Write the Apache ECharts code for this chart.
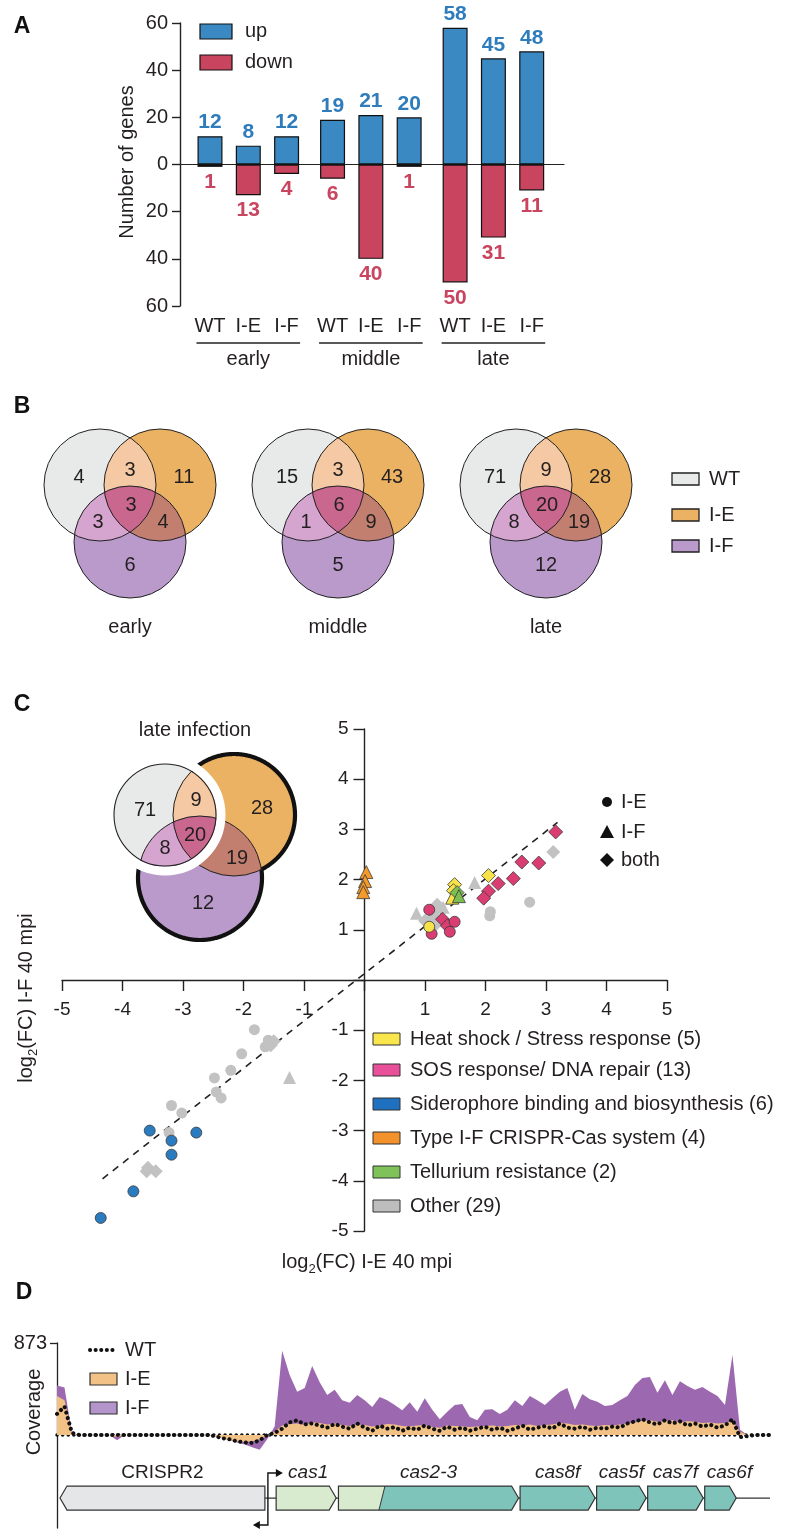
<!DOCTYPE html>
<html><head><meta charset="utf-8">
<script src="https://cdn.jsdelivr.net/npm/echarts@6/dist/echarts.min.js"></script>
<style>html,body{margin:0;padding:0;background:#fff}#c{width:795px;height:1535px}</style>
</head><body><div id="c"></div>
<script>
// ================= DATA =================
// Panel A
const groupNames = ['early', 'middle', 'late'];
const strainNames = ['WT', 'I-E', 'I-F'];
const upCounts = [12, 8, 12, 19, 21, 20, 58, 45, 48];
const downCounts = [1, 13, 4, 6, 40, 1, 50, 31, 11];
// Panel B: [WT only, I-E only, I-F only, WT&I-E, WT&I-F, I-E&I-F, all three]
const vennSetNames = ['WT', 'I-E', 'I-F'];
const vennEarly = [4, 11, 6, 3, 3, 4, 3];
const vennMiddle = [15, 43, 5, 3, 1, 9, 6];
const vennLate = [71, 28, 12, 9, 8, 19, 20];
// Panel C: [log2FC I-E, log2FC I-F, detected in]
const heatShock = [[2.05, 2.08, 'both'], [1.49, 1.90, 'both'], [1.47, 1.78, 'both'], [1.45, 1.64, 'IF'], [1.07, 1.06, 'IE']];
const sosRepair = [[3.16, 2.95, 'both'], [2.60, 2.35, 'both'], [2.88, 2.33, 'both'], [2.46, 2.02, 'both'], [2.21, 1.92, 'both'],
  [2.05, 1.77, 'both'], [1.97, 1.63, 'both'], [1.29, 1.21, 'both'], [1.37, 1.08, 'both'],
  [1.07, 1.40, 'IE'], [1.49, 1.16, 'IE'], [1.41, 0.96, 'IE'], [1.11, 0.92, 'IE']];
const siderophore = [[-3.55, -3.00, 'IE'], [-2.78, -3.04, 'IE'], [-3.19, -3.20, 'IE'], [-3.19, -3.48, 'IE'], [-3.82, -4.21, 'IE'], [-4.36, -4.74, 'IE']];
const typeIFcas = [[0.03, 2.15, 'IF'], [0.01, 1.97, 'IF'], [-0.02, 1.85, 'IF'], [-0.02, 1.75, 'IF']];
const tellurium = [[1.53, 1.74, 'both'], [1.56, 1.67, 'IF']];
const otherGenes = [[0.86, 1.33, 'IF'], [1.07, 1.22, 'IF'], [1.20, 1.50, 'both'], [1.30, 1.45, 'IF'], [1.17, 1.10, 'both'],
  [1.15, 1.30, 'IE'], [1.00, 1.18, 'both'], [1.82, 1.94, 'IF'], [3.12, 2.55, 'both'], [2.73, 1.55, 'IE'],
  [2.08, 1.36, 'IE'], [2.07, 1.28, 'IE'],
  [-1.82, -0.99, 'IE'], [-1.59, -1.20, 'IE'], [-1.50, -1.22, 'both'], [-1.64, -1.33, 'IE'], [-1.55, -1.30, 'both'],
  [-2.03, -1.47, 'IE'], [-2.21, -1.80, 'IE'], [-1.24, -1.94, 'IF'], [-2.48, -1.95, 'IE'], [-2.45, -2.23, 'IE'],
  [-2.37, -2.35, 'IE'], [-3.19, -2.50, 'IE'], [-3.02, -2.65, 'IE'], [-3.23, -3.04, 'IE'], [-3.60, -3.81, 'both'],
  [-3.45, -3.81, 'both'], [-3.58, -3.74, 'both']];
const fitLine = [[-4.33, -3.96], [3.19, 3.14]];
const cTicks = [-5, -4, -3, -2, -1, 1, 2, 3, 4, 5];
// Panel D: coverage along locus (position index 0..95)
const coverageIF = [470, 450, 10, 0, 0, 0, 0, 0, -50, 0,
  0, 0, 0, 0, 0, 0, 0, 0, 0, 0,
  0, -10, -30, -50, -70, -90, -115, -140, -40, 80,
  800, 570, 410, 445, 655, 500, 380, 430, 330, 305,
  380, 330, 265, 360, 330, 285, 235, 310, 220, 350,
  240, 150, 220, 285, 295, 170, 140, 240, 245, 200,
  240, 330, 275, 370, 330, 285, 350, 410, 445, 240,
  390, 340, 315, 275, 285, 330, 370, 475, 540, 550,
  400, 520, 380, 510, 465, 430, 455, 410, 370, 285,
  760, 50, 0, 0, 0, 0];
const coverageIE = [370, 330, 10, 0, 0, 0, 0, 0, -20, 0,
  0, 0, 0, 0, 0, 0, 0, 0, 0, 0,
  0, -5, -30, -50, -60, -65, -60, -40, -10, 30,
  90, 105, 110, 95, 120, 115, 100, 110, 95, 85,
  100, 95, 80, 90, 105, 100, 85, 80, 90, 95,
  75, 70, 90, 85, 80, 75, 80, 85, 90, 80,
  85, 95, 90, 100, 85, 95, 100, 115, 110, 95,
  100, 90, 85, 95, 90, 100, 110, 120, 135, 140,
  125, 130, 140, 120, 130, 125, 115, 120, 110, 115,
  130, 30, 0, 0, 0, 0];
const coverageWT = [200, 270, 20, 0, 0, 0, 0, 0, 0, 0,
  0, 0, 0, 0, 0, 0, 0, 0, 0, 0,
  0, -10, -30, -40, -60, -70, -75, -50, 0, 20,
  60, 120, 140, 100, 110, 90, 70, 105, 80, 60,
  110, 70, 40, 90, 60, 75, 40, 70, 50, 90,
  60, 40, 80, 50, 70, 40, 60, 80, 50, 70,
  40, 60, 90, 50, 70, 85, 60, 110, 70, 60,
  80, 50, 70, 60, 80, 70, 110, 130, 150, 120,
  100, 140, 110, 130, 90, 110, 80, 100, 70, 90,
  150, -20, -10, 0, 0, 0];
const coverageMax = 873;
const geneNames = ['CRISPR2', 'cas1', 'cas2-3', 'cas8f', 'cas5f', 'cas7f', 'cas6f'];
const geneStart = [0.4, 29.2, 37.5, 61.7, 71.9, 78.7, 86.3];
const geneEnd = [27.7, 37.2, 61.5, 71.7, 78.5, 86.1, 90.5];
const geneStrand = [-1, 1, 1, 1, 1, 1, 1];
const geneFusionAt = [-1, -1, 43.3, -1, -1, -1, -1];
const locusExtent = [0.4, 95];
const promoterAt = 28.1;

// ================= STYLE =================
const FONT = "'Liberation Sans', Arial, Helvetica, sans-serif";
const TXT = '#231f20';
const BLUE = '#3a89c2', BLUE_TXT = '#2f7cbc', RED = '#c9445f';
const VC = {WT: '#e8eaea', IE: '#ecb263', IF: '#b99acb', WT_IE: '#f5c9a3', WT_IF: '#d5a5d0', IE_IF: '#c27f70', ALL: '#c9678f'};
const CAT = {heat: '#f7e24a', sos: '#d93d72', sid: '#2a7bbf', cas: '#f39a2b', tel: '#7cbf50', other: '#c2c2c2'};
const CAT_LEG = ['#f9e54c', '#e8509a', '#1f70bf', '#f3922a', '#80c25a', '#bdbdbd'];
const GENE_FILL = ['#e4e6e8', '#d8ebcf', '#7fc4ba', '#7fc4ba', '#7fc4ba', '#7fc4ba', '#7fc4ba'];
const GENE_LABEL_DX = [0, 2, 0, 0, 0, 0, 9];
const LIGHT_GREEN = '#d8ebcf', TEAL = '#7fc4ba';
const GROUP_STEP = 3.2;
const GENE_OFFSET = 63;

const mctx = document.createElement('canvas').getContext('2d');
function tw(t, size, weight) { mctx.font = (weight || 'normal') + ' ' + size + 'px ' + FONT; return mctx.measureText(t).width; }
function txt(x, y, text, o) {
  o = o || {};
  return {type: 'text', x: x, y: y, rotation: o.rotation || 0,
    style: {text: text, fill: o.color || TXT, fontSize: o.size || 20, fontFamily: FONT,
      fontWeight: o.weight || 'normal', fontStyle: o.style || 'normal',
      align: o.align || 'center', verticalAlign: o.valign || 'middle'}};
}

const chart = echarts.init(document.getElementById('c'), null, {renderer: 'canvas', width: 795, height: 1535});
const xPos = upCounts.map((_, i) => Math.floor(i / 3) * GROUP_STEP + (i % 3));

const shapeSymbol = {IE: 'circle', IF: 'triangle', both: 'diamond'};
const shapeSize = {IE: 11, IF: 13, both: 14};
function scatter(name, arr, color, bordered) {
  return {type: 'scatter', name: name, xAxisIndex: 1, yAxisIndex: 1, z: 5,
    data: arr.map(d => ({value: [d[0], d[1]], symbol: shapeSymbol[d[2]], symbolSize: shapeSize[d[2]]})),
    itemStyle: {color: color, borderColor: bordered ? '#3a3a3a' : color, borderWidth: bordered ? 0.8 : 0, opacity: 1}};
}

function renderGene(params, api) {
  const s = api.value(0), e = api.value(1), dir = api.value(2), split = api.value(3);
  const a = api.coord([s, 0]), b = api.coord([e, 0]);
  const y = a[1] + GENE_OFFSET, h = 12, t = 7, x0 = a[0], x1 = b[0];
  const i = params.dataIndex;
  const outline = dir < 0 ? [[x0, y], [x0 + t, y - h], [x1, y - h], [x1, y + h], [x0 + t, y + h]]
    : [[x0, y - h], [x1 - t, y - h], [x1, y], [x1 - t, y + h], [x0, y + h]];
  const ch = [];
  if (split >= 0) {
    const xs = api.coord([split, 0])[0];
    ch.push({type: 'polygon', shape: {points: [[x0, y - h], [xs + 3, y - h], [xs - 3, y + h], [x0, y + h]]}, style: {fill: LIGHT_GREEN}});
    ch.push({type: 'polygon', shape: {points: [[xs + 3, y - h], [x1 - t, y - h], [x1, y], [x1 - t, y + h], [xs - 3, y + h]]}, style: {fill: TEAL}});
    ch.push({type: 'line', shape: {x1: xs + 3, y1: y - h, x2: xs - 3, y2: y + h}, style: {stroke: '#333', lineWidth: 1}});
    ch.push({type: 'polygon', shape: {points: outline}, style: {fill: 'none', stroke: '#333', lineWidth: 1.2}});
  } else {
    ch.push({type: 'polygon', shape: {points: outline}, style: {fill: GENE_FILL[i], stroke: '#333', lineWidth: 1.2}});
  }
  const nm = geneNames[i];
  ch.push({type: 'text', x: (x0 + x1) / 2 + GENE_LABEL_DX[i], y: y - 25, style: {text: nm, fill: TXT, fontSize: 19, fontFamily: FONT,
    fontStyle: nm.indexOf('cas') === 0 ? 'italic' : 'normal', align: 'center', verticalAlign: 'middle'}});
  return {type: 'group', children: ch};
}
function renderLocus(params, api) {
  const a = api.coord([api.value(0), 0]), b = api.coord([api.value(1), 0]);
  const y = a[1] + GENE_OFFSET;
  return {type: 'line', shape: {x1: a[0], y1: y, x2: b[0], y2: y}, style: {stroke: '#333', lineWidth: 1.2}};
}
function renderPromoter(params, api) {
  const p = api.coord([api.value(0), 0]);
  const x = p[0], y = p[1] + GENE_OFFSET;
  const st = {stroke: '#111', lineWidth: 1.4, fill: 'none'};
  return {type: 'group', children: [
    {type: 'polyline', shape: {points: [[x, y], [x, y - 25], [x + 9, y - 25]]}, style: st},
    {type: 'polygon', shape: {points: [[x + 8, y - 29], [x + 15, y - 25], [x + 8, y - 21]]}, style: {fill: '#111'}},
    {type: 'polyline', shape: {points: [[x, y], [x, y + 27], [x - 9, y + 27]]}, style: st},
    {type: 'polygon', shape: {points: [[x - 8, y + 23], [x - 15, y + 27], [x - 8, y + 31]]}, style: {fill: '#111'}}
  ]};
}

const axisCol = '#222';
const option = {
  animation: false,
  backgroundColor: '#ffffff',
  textStyle: {fontFamily: FONT},
  grid: [
    {left: 180, top: 23, width: 384, height: 283},
    {left: 62, top: 729, width: 605, height: 502},
    {left: 57, top: 1343, width: 713, height: 185}
  ],
  xAxis: [
    {gridIndex: 0, type: 'value', min: -0.783, max: 9.243,
      axisLine: {show: true, onZero: true, lineStyle: {color: axisCol, width: 1.2}},
      axisTick: {show: false}, axisLabel: {show: false}, splitLine: {show: false}},
    {gridIndex: 1, type: 'value', min: -5, max: 5, interval: 1,
      axisLine: {show: true, onZero: true, lineStyle: {color: axisCol, width: 1.4}},
      axisTick: {show: true, length: 11, lineStyle: {color: axisCol, width: 1.4}},
      axisLabel: {show: false}, splitLine: {show: false}},
    {gridIndex: 2, type: 'value', min: 0, max: 95,
      axisLine: {show: true, onZero: true, lineStyle: {color: '#111', width: 3.5, type: [0.1, 5.5], cap: 'round'}},
      axisTick: {show: false}, axisLabel: {show: false}, splitLine: {show: false}}
  ],
  yAxis: [
    {gridIndex: 0, type: 'value', min: -60, max: 60, interval: 20,
      axisLine: {show: true, onZero: false, lineStyle: {color: axisCol, width: 1.4}},
      axisTick: {show: true, length: 8, lineStyle: {color: axisCol, width: 1.4}},
      axisLabel: {fontSize: 20, color: TXT, fontFamily: FONT, margin: 12, formatter: v => String(Math.abs(v))},
      splitLine: {show: false}},
    {gridIndex: 1, type: 'value', min: -5, max: 5, interval: 1,
      axisLine: {show: true, onZero: true, lineStyle: {color: axisCol, width: 1.4}},
      axisTick: {show: true, length: 11, lineStyle: {color: axisCol, width: 1.4}},
      axisLabel: {show: false}, splitLine: {show: false}},
    {gridIndex: 2, type: 'value', min: -882, max: coverageMax,
      axisLine: {show: true, onZero: false, lineStyle: {color: axisCol, width: 1.3}},
      axisTick: {show: true, length: 7, customValues: [coverageMax], lineStyle: {color: axisCol, width: 1.3}},
      axisLabel: {fontSize: 20, color: TXT, fontFamily: FONT, margin: 10, customValues: [coverageMax]},
      splitLine: {show: false}}
  ],
  series: [
    {type: 'bar', name: 'up', xAxisIndex: 0, yAxisIndex: 0, stack: 'a', barWidth: 25,
      data: upCounts.map((v, i) => [xPos[i], v]),
      itemStyle: {color: BLUE, borderColor: '#111', borderWidth: 1.2},
      label: {show: true, position: 'top', distance: 3, color: BLUE_TXT, fontWeight: 'bold', fontSize: 21, fontFamily: FONT, formatter: p => String(p.value[1])}},
    {type: 'bar', name: 'down', xAxisIndex: 0, yAxisIndex: 0, stack: 'a', barWidth: 25,
      data: downCounts.map((v, i) => [xPos[i], -v]),
      itemStyle: {color: RED, borderColor: '#111', borderWidth: 1.2},
      label: {show: true, position: 'bottom', distance: 5, color: RED, fontWeight: 'bold', fontSize: 21, fontFamily: FONT, formatter: p => String(Math.abs(p.value[1]))}},
    {type: 'line', xAxisIndex: 1, yAxisIndex: 1, data: fitLine, symbol: 'none', z: 3,
      lineStyle: {color: '#222', width: 1.6, type: [7, 6]}},
    scatter('Other', otherGenes, CAT.other, false),
    scatter('SOS', sosRepair, CAT.sos, true),
    scatter('Heat', heatShock, CAT.heat, true),
    scatter('Tellurium', tellurium, CAT.tel, true),
    scatter('Siderophore', siderophore, CAT.sid, true),
    scatter('TypeIF', typeIFcas, CAT.cas, true),
    {type: 'line', name: 'I-F', xAxisIndex: 2, yAxisIndex: 2, data: coverageIF.map((v, i) => [i, v]), symbol: 'none', z: 2,
      lineStyle: {width: 0, opacity: 0}, areaStyle: {color: '#9c69b0', opacity: 1}},
    {type: 'line', name: 'I-E', xAxisIndex: 2, yAxisIndex: 2, data: coverageIE.map((v, i) => [i, v]), symbol: 'none', z: 3,
      lineStyle: {width: 0, opacity: 0}, areaStyle: {color: '#f2c185', opacity: 1}},
    {type: 'line', name: 'WT', xAxisIndex: 2, yAxisIndex: 2, data: coverageWT.map((v, i) => [i, v]), symbol: 'none', z: 4,
      lineStyle: {color: '#111', width: 4, type: [0.1, 5.5], cap: 'round'}},
    {type: 'custom', xAxisIndex: 2, yAxisIndex: 2, renderItem: renderLocus, data: [[locusExtent[0], locusExtent[1], 0]], encode: {x: [0, 1], y: 2}, z: 5, clip: false},
    {type: 'custom', xAxisIndex: 2, yAxisIndex: 2, renderItem: renderGene,
      data: geneNames.map((n, i) => [geneStart[i], geneEnd[i], geneStrand[i], geneFusionAt[i], 0]), encode: {x: [0, 1], y: 4}, z: 6, clip: false},
    {type: 'custom', xAxisIndex: 2, yAxisIndex: 2, renderItem: renderPromoter, data: [[promoterAt, 0]], encode: {x: 0, y: 1}, z: 7, clip: false}
  ]
};
chart.setOption(option);

// ================= GRAPHICS =================
const G = [];
let zc = 20;
function add(el) { el.z = zc++; G.push(el); }

// Panel labels
add(txt(22, 27, 'A', {weight: 'bold', size: 23, color: '#111'}));
add(txt(22, 407, 'B', {weight: 'bold', size: 23, color: '#111'}));
add(txt(22, 705, 'C', {weight: 'bold', size: 23, color: '#111'}));
add(txt(24, 1293, 'D', {weight: 'bold', size: 23, color: '#111'}));

// Panel A texts
add(txt(127, 162, 'Number of genes', {rotation: Math.PI / 2}));
add({type: 'rect', shape: {x: 200, y: 24, width: 32, height: 15}, style: {fill: BLUE, stroke: '#111', lineWidth: 1.2}});
add(txt(245, 31, 'up', {align: 'left'}));
add({type: 'rect', shape: {x: 200, y: 55, width: 32, height: 15}, style: {fill: RED, stroke: '#111', lineWidth: 1.2}});
add(txt(245, 62, 'down', {align: 'left'}));
xPos.forEach((x, i) => {
  const p = chart.convertToPixel({gridIndex: 0}, [x, 0]);
  add(txt(p[0], 326, strainNames[i % 3]));
});
groupNames.forEach((g, gi) => {
  const a = chart.convertToPixel({gridIndex: 0}, [xPos[gi * 3], 0]);
  const b = chart.convertToPixel({gridIndex: 0}, [xPos[gi * 3 + 2], 0]);
  add({type: 'line', shape: {x1: a[0] - 13.5, y1: 343, x2: b[0] + 13.5, y2: 343}, style: {stroke: '#222', lineWidth: 1.4}});
  add(txt((a[0] + b[0]) / 2, 359, g));
});

// Panel C tick labels placed along the zero-crossing axes
cTicks.forEach(v => {
  const px = chart.convertToPixel({gridIndex: 1}, [v, 0]);
  add(txt(px[0], px[1] + 30, String(v), {size: 19}));
  const py = chart.convertToPixel({gridIndex: 1}, [0, v]);
  add(txt(py[0] - 16, py[1], String(v), {size: 19, align: 'right'}));
});

// Venn helpers
function regionPoly(circles, c0) {
  const pts = [];
  for (let k = 0; k < 240; k++) {
    const ang = k / 240 * 2 * Math.PI, dx = Math.cos(ang), dy = Math.sin(ang);
    let tmin = Infinity;
    circles.forEach(c => {
      const ox = c0[0] - c.x, oy = c0[1] - c.y;
      const b = dx * ox + dy * oy, cc = ox * ox + oy * oy - c.r * c.r;
      const t = -b + Math.sqrt(b * b - cc);
      if (t < tmin) tmin = t;
    });
    pts.push([c0[0] + dx * tmin, c0[1] + dy * tmin]);
  }
  return pts;
}
function lensPoint(a, b) {
  const d = Math.hypot(b.x - a.x, b.y - a.y), t = (d - b.r + a.r) / 2 / d;
  return [a.x + (b.x - a.x) * t, a.y + (b.y - a.y) * t];
}
function vennShapes(W, E, F) {
  add({type: 'circle', shape: {cx: W.x, cy: W.y, r: W.r}, style: {fill: VC.WT}});
  add({type: 'circle', shape: {cx: E.x, cy: E.y, r: E.r}, style: {fill: VC.IE}});
  add({type: 'circle', shape: {cx: F.x, cy: F.y, r: F.r}, style: {fill: VC.IF}});
  add({type: 'polygon', shape: {points: regionPoly([W, E], lensPoint(W, E))}, style: {fill: VC.WT_IE}});
  add({type: 'polygon', shape: {points: regionPoly([W, F], lensPoint(W, F))}, style: {fill: VC.WT_IF}});
  add({type: 'polygon', shape: {points: regionPoly([E, F], lensPoint(E, F))}, style: {fill: VC.IE_IF}});
  const cen = [(W.x + E.x + F.x) / 3, (W.y + E.y + F.y) / 3];
  add({type: 'polygon', shape: {points: regionPoly([W, E, F], cen)}, style: {fill: VC.ALL}});
}
function outline(c, lw, col) {
  add({type: 'circle', shape: {cx: c.x, cy: c.y, r: c.r}, style: {fill: 'none', stroke: col || '#222', lineWidth: lw || 1}});
}
function vennLabels(W, counts, offs) {
  counts.forEach((v, i) => add(txt(W.x + offs[i][0], W.y + offs[i][1], String(v), {size: 20})));
}
const B_OFFS = [[-21, -8], [84, -8], [30, 80], [30, -15], [-2, 37], [63, 37], [31, 20]];
[vennEarly, vennMiddle, vennLate].forEach((counts, k) => {
  const dx = [0, 208, 416][k];
  const W = {x: 100 + dx, y: 485, r: 56}, E = {x: 160 + dx, y: 485, r: 56}, F = {x: 130 + dx, y: 542, r: 56};
  vennShapes(W, E, F);
  outline(W); outline(E); outline(F);
  vennLabels(W, counts, B_OFFS);
  add(txt(130 + dx, 627, groupNames[k]));
});
// Venn legend
const vennLegCols = [VC.WT, VC.IE, VC.IF];
vennSetNames.forEach((n, i) => {
  const yc = [479, 515, 546][i];
  add({type: 'rect', shape: {x: 672, y: yc - 6, width: 27, height: 12}, style: {fill: vennLegCols[i], stroke: '#222', lineWidth: 1.3}});
  add(txt(709, yc, n, {align: 'left'}));
});

// Panel C venn
add(txt(195, 730, 'late infection'));
(function () {
  const W = {x: 165, y: 815, r: 51}, E = {x: 234, y: 815, r: 61}, F = {x: 200, y: 878, r: 62};
  vennShapes(W, E, F);
  outline(E); outline(F);
  function arcSegs(c, excl) {
    const segs = []; let cur = null; const n = 480; let firstOut = false, lastOut = false;
    for (let k = 0; k <= n; k++) {
      const a = k / n * 2 * Math.PI, x = c.x + c.r * Math.cos(a), y = c.y + c.r * Math.sin(a);
      const out = excl.every(e => Math.hypot(x - e.x, y - e.y) > e.r);
      if (k === 0) firstOut = out; if (k === n) lastOut = out;
      if (out) { if (!cur) { cur = []; segs.push(cur); } cur.push([x, y]); } else cur = null;
    }
    if (firstOut && lastOut && segs.length > 1) { const last = segs.pop(); segs[0] = last.concat(segs[0]); }
    return segs;
  }
  arcSegs(E, [F, W]).concat(arcSegs(F, [E, W])).forEach(s =>
    add({type: 'polyline', shape: {points: s}, style: {stroke: '#111', lineWidth: 4.2, fill: 'none', lineCap: 'butt'}}));
  add({type: 'circle', shape: {cx: W.x, cy: W.y, r: W.r + 5}, style: {fill: 'none', stroke: '#fff', lineWidth: 9}});
  outline(W, 1.1);
  vennLabels(W, vennLate, [[-20, -5], [97, -7], [38, 88], [31, -15], [0, 33], [72, 43], [30, 20]]);
})();

// log2 axis titles
function log2Label(cx, cy, post, rot) {
  const f = 20, fs = 13;
  const w1 = tw('log', f), w2 = tw('2', fs), w3 = tw(post, f), W = w1 + w2 + w3, x0 = -W / 2;
  const st = (t, s) => ({text: t, fill: TXT, fontSize: s, fontFamily: FONT, align: 'left', verticalAlign: 'middle'});
  add({type: 'group', x: cx, y: cy, rotation: rot, children: [
    {type: 'text', x: x0, y: 0, style: st('log', f)},
    {type: 'text', x: x0 + w1, y: 7, style: st('2', fs)},
    {type: 'text', x: x0 + w1 + w2, y: 0, style: st(post, f)}
  ]});
}
log2Label(367, 1262, '(FC) I-E 40 mpi', 0);
log2Label(26, 998, '(FC) I-F 40 mpi', Math.PI / 2);

// Shape legend
add({type: 'circle', shape: {cx: 607, cy: 802, r: 5}, style: {fill: '#111'}});
add(txt(621, 802, 'I-E', {align: 'left'}));
add({type: 'polygon', shape: {points: [[607, 825], [614, 838], [600, 838]]}, style: {fill: '#111'}});
add(txt(621, 832, 'I-F', {align: 'left'}));
add({type: 'polygon', shape: {points: [[607, 853], [614, 860], [607, 867], [600, 860]]}, style: {fill: '#111'}});
add(txt(621, 860, 'both', {align: 'left'}));

// Category legend
const catLabels = ['Heat shock / Stress response (' + heatShock.length + ')', 'SOS response/ DNA repair (' + sosRepair.length + ')',
  'Siderophore binding and biosynthesis (' + siderophore.length + ')', 'Type I-F CRISPR-Cas system (' + typeIFcas.length + ')',
  'Tellurium resistance (' + tellurium.length + ')', 'Other (' + otherGenes.length + ')'];
catLabels.forEach((t, i) => {
  const yc = [1039, 1070, 1104, 1138, 1172, 1206][i];
  add({type: 'rect', shape: {x: 373, y: yc - 6, width: 27, height: 12}, style: {fill: CAT_LEG[i], stroke: '#333', lineWidth: 1}});
  add(txt(410, yc, t, {align: 'left'}));
});

// Panel D texts
add(txt(34, 1412, 'Coverage', {rotation: Math.PI / 2}));
add({type: 'line', shape: {x1: 90, y1: 1350, x2: 118, y2: 1350}, style: {stroke: '#111', lineWidth: 4, lineDash: [0.1, 5.5], lineCap: 'round'}});
add(txt(125, 1350, 'WT', {align: 'left'}));
add({type: 'rect', shape: {x: 90, y: 1373, width: 27, height: 12}, style: {fill: '#f2c185', stroke: '#333', lineWidth: 1.2}});
add(txt(125, 1379, 'I-E', {align: 'left'}));
add({type: 'rect', shape: {x: 90, y: 1402, width: 27, height: 12}, style: {fill: '#b495cb', stroke: '#333', lineWidth: 1.2}});
add(txt(125, 1408, 'I-F', {align: 'left'}));

chart.setOption({graphic: {elements: G}});
</script>
</body></html>
